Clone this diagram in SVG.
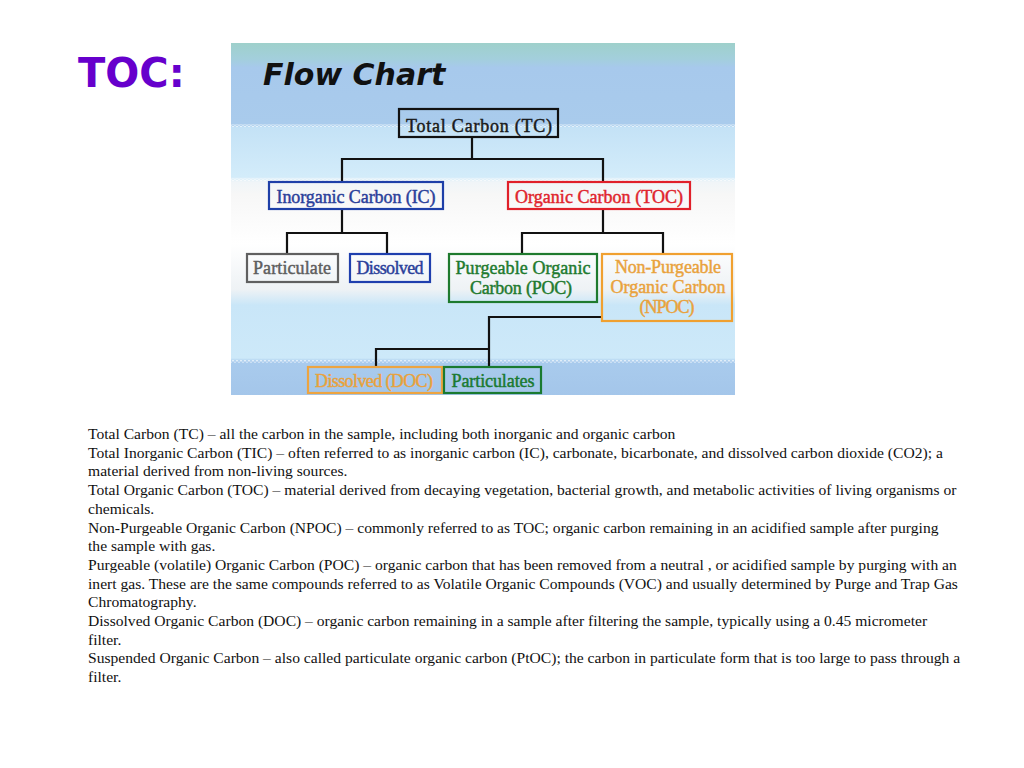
<svg xmlns="http://www.w3.org/2000/svg" width="1024" height="768" viewBox="0 0 1024 768">
<style>
.title{font-family:"DejaVu Sans",Verdana,sans-serif;font-weight:bold;font-size:40px;fill:#6600cc}
.fc{font-family:"DejaVu Sans",Verdana,sans-serif;font-weight:bold;font-style:italic;font-size:30px;fill:#111}
.lbl{font-family:"Liberation Serif","Times New Roman",serif;font-size:18px;text-anchor:middle;stroke-width:0.45}
.box{fill:none;stroke-width:2.2}
.conn{fill:none;stroke:#111;stroke-width:2.2}
.body{font-family:"Liberation Serif","Times New Roman",serif;font-size:15.6px;fill:#111}
</style>
<defs>
<linearGradient id="bg" x1="0" y1="43" x2="0" y2="395" gradientUnits="userSpaceOnUse">
<stop offset="0" stop-color="#9ed0cb"/>
<stop offset="0.045" stop-color="#a3cfdc"/>
<stop offset="0.07" stop-color="#a7c9ec"/>
<stop offset="0.23" stop-color="#a9cbec"/>
<stop offset="0.24" stop-color="#c4e2f6"/>
<stop offset="0.38" stop-color="#d3ecfa"/>
<stop offset="0.395" stop-color="#f0f5f8"/>
<stop offset="0.43" stop-color="#f7f7f7"/>
<stop offset="0.57" stop-color="#ffffff"/>
<stop offset="0.7" stop-color="#eef2f5"/>
<stop offset="0.745" stop-color="#c9e6f8"/>
<stop offset="0.895" stop-color="#cde9f9"/>
<stop offset="0.905" stop-color="#a9cbed"/>
<stop offset="1" stop-color="#a4c6ea"/>
</linearGradient>
<pattern id="dots" x="0" y="0" width="4" height="3" patternUnits="userSpaceOnUse">
<rect x="0" y="0" width="2" height="1.5" fill="#ffffff" opacity="0.6"/>
<rect x="2" y="1.5" width="2" height="1.5" fill="#ffffff" opacity="0.4"/>
</pattern>
</defs>
<rect width="1024" height="768" fill="#ffffff"/>
<text class="title" x="78" y="87">TOC:</text>
<g id="flowchart-bg">
<rect x="231" y="43" width="504" height="352" fill="url(#bg)"/>
<rect x="231" y="124" width="504" height="3" fill="url(#dots)"/>
<rect x="231" y="178" width="504" height="3" fill="url(#dots)"/>
<rect x="231" y="360" width="504" height="3" fill="url(#dots)"/>
<text class="fc" x="263" y="85">Flow Chart</text>
</g>
<g id="connectors">
<path class="conn" d="M472 137V159M342 159H603M342 158V182M603 158V182"/>
<path class="conn" d="M342 209V233M287 233H387M287 232V254M387 232V254"/>
<path class="conn" d="M603 209V233M522 233H663M522 232V254M663 232V254"/>
<path class="conn" d="M602 317H489M489 316V367M376 349H489M376 348V367"/>
</g>
<g id="node-tc">
<rect class="box" x="399" y="109" width="159" height="28" stroke="#111"/>
<text class="lbl" x="479" y="132" fill="#1a1a1a" stroke="#1a1a1a" textLength="146">Total Carbon (TC)</text>
</g>
<g id="node-ic">
<rect class="box" x="269" y="182" width="174" height="27" stroke="#1e3fa8"/>
<text class="lbl" x="356" y="203" fill="#2a3f9a" stroke="#2a3f9a" textLength="159">Inorganic Carbon (IC)</text>
</g>
<g id="node-toc">
<rect class="box" x="508" y="182" width="182" height="27" stroke="#e0202a"/>
<text class="lbl" x="599" y="203" fill="#e0242c" stroke="#e0242c" textLength="168">Organic Carbon (TOC)</text>
</g>
<g id="node-particulate">
<rect class="box" x="247" y="254" width="91" height="28" stroke="#606060"/>
<text class="lbl" x="292" y="274" fill="#5e5e5e" stroke="#5e5e5e" textLength="78">Particulate</text>
</g>
<g id="node-dissolved">
<rect class="box" x="350" y="254" width="80" height="28" stroke="#1f3fae"/>
<text class="lbl" x="390" y="274" fill="#2a3f9a" stroke="#2a3f9a" textLength="67">Dissolved</text>
</g>
<g id="node-poc">
<rect class="box" x="449" y="254" width="148" height="48" stroke="#1e7a2e"/>
<text class="lbl" x="523" y="274" fill="#1e7a2e" stroke="#1e7a2e" textLength="135">Purgeable Organic</text>
<text class="lbl" x="521" y="294" fill="#1e7a2e" stroke="#1e7a2e" textLength="102">Carbon (POC)</text>
</g>
<g id="node-npoc">
<rect class="box" x="602" y="254" width="130" height="67" stroke="#f0a030"/>
<text class="lbl" x="668" y="273" fill="#e9a23c" stroke="#e9a23c" textLength="106">Non-Purgeable</text>
<text class="lbl" x="668" y="293" fill="#e9a23c" stroke="#e9a23c" textLength="115">Organic Carbon</text>
<text class="lbl" x="667" y="313" fill="#e9a23c" stroke="#e9a23c" textLength="55">(NPOC)</text>
</g>
<g id="node-doc">
<rect class="box" x="308" y="367" width="134" height="26" stroke="#eda440"/>
<text class="lbl" x="374" y="387" fill="#e9a23c" stroke="#e9a23c" textLength="118">Dissolved (DOC)</text>
</g>
<g id="node-particulates">
<rect class="box" x="444" y="367" width="97" height="26" stroke="#1a7a30"/>
<text class="lbl" x="493" y="387" fill="#1a7a30" stroke="#1a7a30" textLength="83">Particulates</text>
</g>
<g id="definitions">
<text class="body" x="88" y="439">Total Carbon (TC) – all the carbon in the sample, including both inorganic and organic carbon</text>
<text class="body" x="88" y="457.7">Total Inorganic Carbon (TIC) – often referred to as inorganic carbon (IC), carbonate, bicarbonate, and dissolved carbon dioxide (CO2); a</text>
<text class="body" x="88" y="476.4">material derived from non-living sources.</text>
<text class="body" x="88" y="495.1">Total Organic Carbon (TOC) – material derived from decaying vegetation, bacterial growth, and metabolic activities of living organisms or</text>
<text class="body" x="88" y="513.8">chemicals.</text>
<text class="body" x="88" y="532.5">Non-Purgeable Organic Carbon (NPOC) – commonly referred to as TOC; organic carbon remaining in an acidified sample after purging</text>
<text class="body" x="88" y="551.2">the sample with gas.</text>
<text class="body" x="88" y="569.9">Purgeable (volatile) Organic Carbon (POC) – organic carbon that has been removed from a neutral , or acidified sample by purging with an</text>
<text class="body" x="88" y="588.6">inert gas. These are the same compounds referred to as Volatile Organic Compounds (VOC) and usually determined by Purge and Trap Gas</text>
<text class="body" x="88" y="607.3">Chromatography.</text>
<text class="body" x="88" y="626">Dissolved Organic Carbon (DOC) – organic carbon remaining in a sample after filtering the sample, typically using a 0.45 micrometer</text>
<text class="body" x="88" y="644.7">filter.</text>
<text class="body" x="88" y="663.4">Suspended Organic Carbon – also called particulate organic carbon (PtOC); the carbon in particulate form that is too large to pass through a</text>
<text class="body" x="88" y="682.1">filter.</text>
</g>
</svg>
